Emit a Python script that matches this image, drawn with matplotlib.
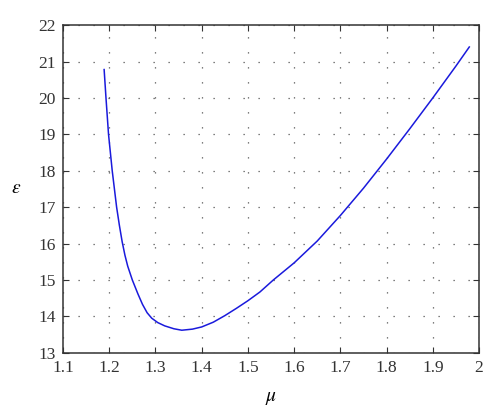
import numpy as np
import matplotlib
matplotlib.use("Agg")
import matplotlib.pyplot as plt

plt.rcParams["font.family"] = "Liberation Serif"
plt.rcParams["mathtext.fontset"] = "stix"

# values
mu = [1.189, 1.193, 1.1985, 1.2065, 1.216, 1.222, 1.228, 1.234, 1.240, 1.250,
      1.262, 1.272, 1.282, 1.292, 1.305, 1.320, 1.340, 1.357, 1.380, 1.400,
      1.425, 1.450, 1.475, 1.500, 1.526, 1.555, 1.600, 1.650, 1.700, 1.750,
      1.800, 1.850, 1.900, 1.950, 1.979]
eps = [20.78, 20.00, 19.00, 18.00, 17.00, 16.50, 16.05, 15.68, 15.38, 15.00,
       14.62, 14.33, 14.10, 13.95, 13.83, 13.74, 13.66, 13.62, 13.65, 13.71,
       13.84, 14.02, 14.22, 14.43, 14.67, 15.00, 15.47, 16.07, 16.77, 17.52,
       18.32, 19.15, 20.00, 20.875, 21.40]

fig = plt.figure(figsize=(5.0, 4.19), dpi=100)
ax = fig.add_axes([0.126, 0.158, 0.832, 0.782])

ax.plot(mu, eps, color="#1a1adc", linewidth=1.1)

ax.set_xlim(1.1, 2.0)
ax.set_ylim(13, 22)
ax.set_xticks(np.arange(1.1, 2.01, 0.1))
ax.set_xticklabels(["1.1", "1.2", "1.3", "1.4", "1.5", "1.6", "1.7", "1.8", "1.9", "2"])
ax.set_yticks(range(13, 23))
ax.grid(True, linestyle=(0, (1, 11)), color="#555555", linewidth=0.9)
ax.tick_params(direction="in", top=True, right=True, labelsize=12.5,
               length=4, pad=5, colors="#333333")
for s in ax.spines.values():
    s.set_linewidth(1.1)
    s.set_color("#333333")

ax.set_xlabel(r"$\mu$", fontsize=14, labelpad=10)
ax.set_ylabel(r"$\epsilon$", fontsize=14, rotation=0, labelpad=16, va="center")

fig.savefig("out.png", dpi=100)
